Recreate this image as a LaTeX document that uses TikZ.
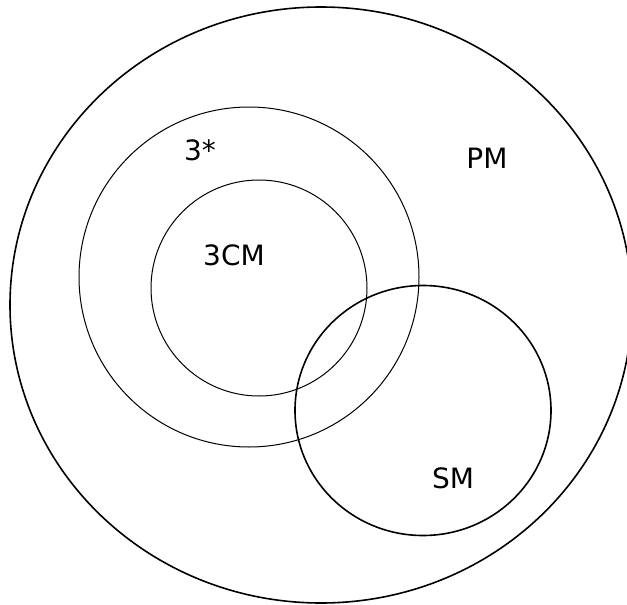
\documentclass[tikz,border=0pt]{standalone}
\usepackage{fontspec}
\setmainfont{DejaVu Sans}
\begin{document}
\begin{tikzpicture}[x=0.5pt,y=-0.5pt,
  setlabel/.style={font=\fontsize{14}{16}\selectfont},
  outerset/.style={line width=0.8pt},
  innerset/.style={line width=0.5pt}]
\useasboundingbox (0,0) rectangle (627,605);
\clip (0,0) rectangle (627,605);

\draw[outerset] (321,305) ellipse [x radius=311, y radius=298];
\node[setlabel] (pm) at (487,158) {PM};

\draw[innerset] (249,277) circle [radius=170];
\node[setlabel] (three) at (200,150) {3*};

\draw[innerset] (259,288) circle [radius=108];
\node[setlabel] (threecm) at (234,255) {3CM};

\draw[outerset] (423,410.5) ellipse [x radius=128, y radius=125];
\node[setlabel] (sm) at (453,478) {SM};
\end{tikzpicture}
\end{document}
